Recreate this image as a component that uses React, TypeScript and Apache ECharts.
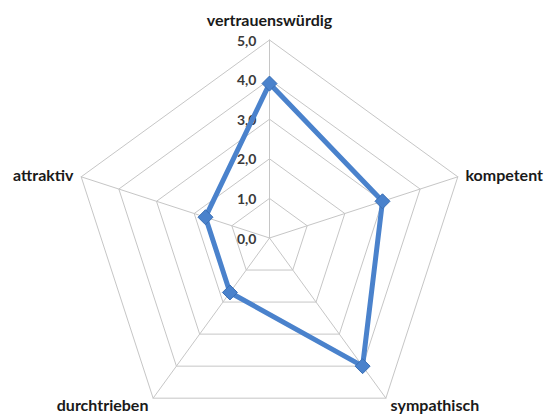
import React, { useEffect, useRef } from "react";
import * as echarts from "echarts";

// Indicators listed counterclockwise starting from the top
const categories = ["vertrauenswürdig", "attraktiv", "durchtrieben", "sympathisch", "kompetent"];
const values = [3.9, 1.7, 1.7, 4.0, 3.0];
const maxValue = 5;
const tickLabels = ["0,0", "1,0", "2,0", "3,0", "4,0", "5,0"];

export default function App() {
  const ref = useRef<HTMLDivElement>(null);
  useEffect(() => {
    if (!ref.current) return;
    const chart = echarts.init(ref.current, null, { renderer: "svg" });
    const indicator = categories.map((name, i) => {
      const ind: any = { name, max: maxValue, min: 0 };
      if (i === 0) {
        ind.nameGap = 13;
        ind.axisLabel = {
          show: true,
          formatter: (v: number) => tickLabels[Math.round(v)] ?? "",
        };
      }
      return ind;
    });
    chart.setOption({
      animation: false,
      backgroundColor: "#ffffff",
      radar: {
        center: [269.5, 238],
        radius: 198,
        startAngle: 90,
        splitNumber: 5,
        shape: "polygon",
        indicator,
        nameGap: 8,
        axisName: {
          color: "#1a1a1a",
          fontFamily: "Lato",
          fontWeight: "bold",
          fontSize: 16,
        },
        axisLine: { lineStyle: { color: "#c6c6c6", width: 1 } },
        splitLine: { lineStyle: { color: "#c6c6c6", width: 1 } },
        splitArea: { show: false },
        axisTick: { show: false },
        axisLabel: {
          show: false,
          color: "#3a3a3a",
          fontFamily: "Lato",
          fontWeight: "bold",
          fontSize: 14,
          margin: 13,
        },
      },
      series: [
        {
          type: "radar",
          symbol: "diamond",
          symbolSize: 15,
          lineStyle: { color: "#4a82cc", width: 5 },
          itemStyle: { color: "#4a82cc", borderColor: "#3a6fb5", borderWidth: 1 },
          data: [{ value: values }],
        },
      ],
    });
    return () => chart.dispose();
  }, []);
  return (
    <div
      ref={ref}
      style={{ position: "fixed", left: 0, top: 0, width: 547, height: 415 }}
    />
  );
}
